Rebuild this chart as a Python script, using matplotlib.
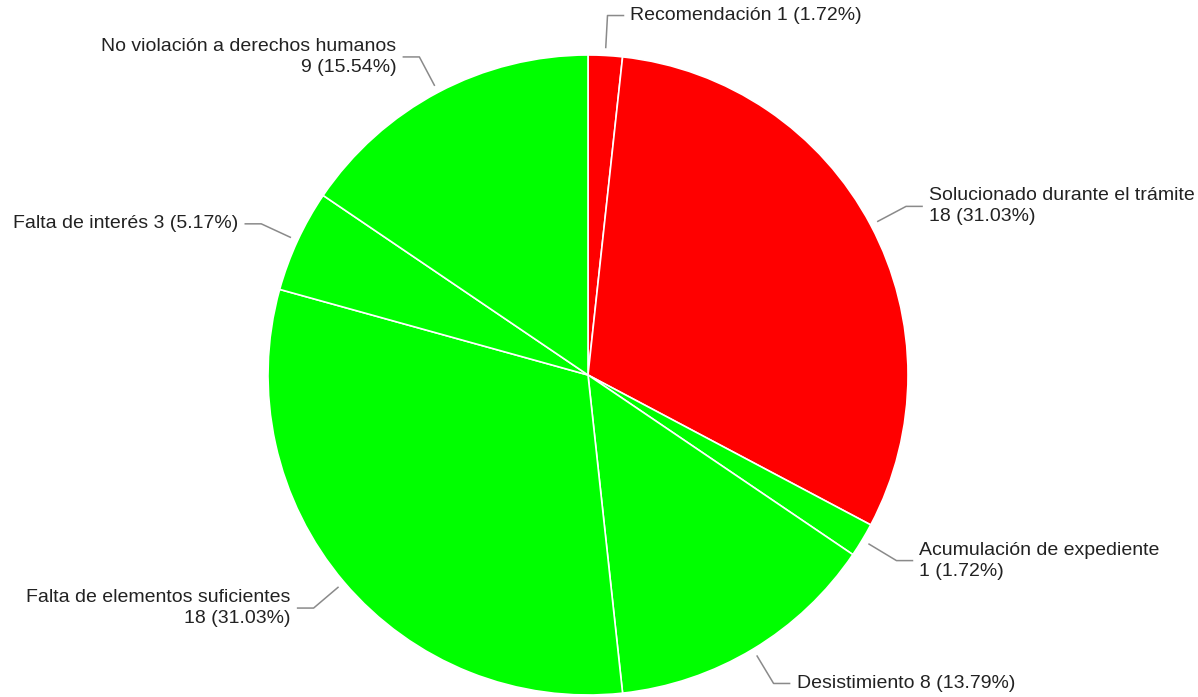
import numpy as np
import matplotlib
matplotlib.use("Agg")
import matplotlib.pyplot as plt

plt.rcParams["font.family"] = ["Liberation Sans", "DejaVu Sans"]

CATEGORIES = [
    "Recomendación",
    "Solucionado durante el trámite",
    "Acumulación de expediente",
    "Desistimiento",
    "Falta de elementos suficientes",
    "Falta de interés",
    "No violación a derechos humanos",
]
COUNTS = [1, 18, 1, 8, 18, 3, 9]
PERCENTS = ["1.72%", "31.03%", "1.72%", "13.79%", "31.03%", "5.17%", "15.54%"]
COLORS = ["#ff0000", "#ff0000", "#00ff00", "#00ff00", "#00ff00", "#00ff00", "#00ff00"]
# True -> name and value on two lines
TWO_LINES = [False, True, True, False, True, False, True]

W, H = 1198, 697
CX, CY, R = 588, H - 375, 320


def label_text(i):
    if TWO_LINES[i]:
        return f"{CATEGORIES[i]}\n{COUNTS[i]} ({PERCENTS[i]})"
    return f"{CATEGORIES[i]} {COUNTS[i]} ({PERCENTS[i]})"


fig = plt.figure(figsize=(W / 100, H / 100), dpi=100)
ax = fig.add_axes([0, 0, 1, 1])

wedges, _ = ax.pie(COUNTS, colors=COLORS, startangle=90, counterclock=False,
                   center=(CX, CY), radius=R,
                   wedgeprops=dict(edgecolor="white", linewidth=1.2))

for i, w in enumerate(wedges):
    ang = np.deg2rad((w.theta1 + w.theta2) / 2)
    x0, y0 = CX + 1.025 * R * np.cos(ang), CY + 1.025 * R * np.sin(ang)
    x1, y1 = CX + 1.125 * R * np.cos(ang), CY + 1.125 * R * np.sin(ang)
    side = 1 if np.cos(ang) >= -0.1 else -1
    x2 = x1 + side * 16
    ax.plot([x0, x1, x2], [y0, y1, y1], color="#8a8a8a", lw=1.1)
    ax.text(x2 + side * 7, y1, label_text(i), ha="left" if side > 0 else "right",
            va="center", fontsize=14, color="#222222", linespacing=1.32,
            multialignment="left" if side > 0 else "right")

ax.set_xlim(0, W)
ax.set_ylim(0, H)
ax.set_aspect("equal")
ax.axis("off")

fig.savefig("out.png", dpi=100)
